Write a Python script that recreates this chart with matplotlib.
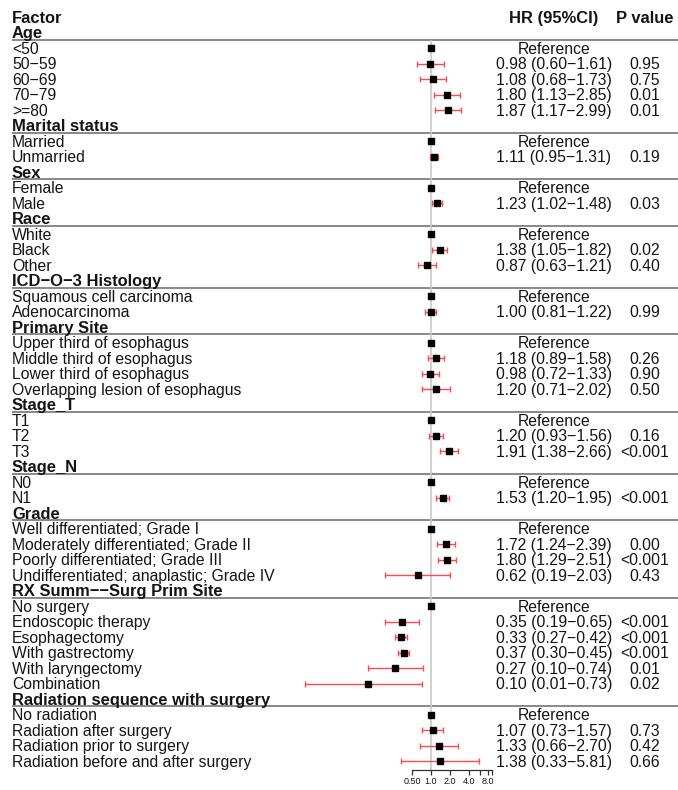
import numpy as np
import matplotlib
matplotlib.use('Agg')
from matplotlib import pyplot as plt
from matplotlib.ticker import FixedLocator, NullFormatter

plt.rcParams['font.family'] = ['Liberation Sans', 'DejaVu Sans']

# Cox model results, one entry per level; nan bounds mark the reference level
group_names = ['Age', 'Marital status', 'Sex', 'Race', 'ICD−O−3 Histology', 'Primary Site',
               'Stage_T', 'Stage_N', 'Grade', 'RX Summ−−Surg Prim Site',
               'Radiation sequence with surgery']
group_sizes = [5, 2, 2, 3, 2, 4, 3, 2, 4, 6, 4]

levels = ['<50', '50−59', '60−69', '70−79', '>=80',
          'Married', 'Unmarried',
          'Female', 'Male',
          'White', 'Black', 'Other',
          'Squamous cell carcinoma', 'Adenocarcinoma',
          'Upper third of esophagus', 'Middle third of esophagus',
          'Lower third of esophagus', 'Overlapping lesion of esophagus',
          'T1', 'T2', 'T3',
          'N0', 'N1',
          'Well differentiated; Grade I', 'Moderately differentiated; Grade II',
          'Poorly differentiated; Grade III', 'Undifferentiated; anaplastic; Grade IV',
          'No surgery', 'Endoscopic therapy', 'Esophagectomy', 'With gastrectomy',
          'With laryngectomy', 'Combination',
          'No radiation', 'Radiation after surgery', 'Radiation prior to surgery',
          'Radiation before and after surgery']

nan = np.nan
hr = [1.00, 0.98, 1.08, 1.80, 1.87,
      1.00, 1.11,
      1.00, 1.23,
      1.00, 1.38, 0.87,
      1.00, 1.00,
      1.00, 1.18, 0.98, 1.20,
      1.00, 1.20, 1.91,
      1.00, 1.53,
      1.00, 1.72, 1.80, 0.62,
      1.00, 0.35, 0.33, 0.37, 0.27, 0.10,
      1.00, 1.07, 1.33, 1.38]
hr_low = [nan, 0.60, 0.68, 1.13, 1.17,
          nan, 0.95,
          nan, 1.02,
          nan, 1.05, 0.63,
          nan, 0.81,
          nan, 0.89, 0.72, 0.71,
          nan, 0.93, 1.38,
          nan, 1.20,
          nan, 1.24, 1.29, 0.19,
          nan, 0.19, 0.27, 0.30, 0.10, 0.01,
          nan, 0.73, 0.66, 0.33]
hr_high = [nan, 1.61, 1.73, 2.85, 2.99,
           nan, 1.31,
           nan, 1.48,
           nan, 1.82, 1.21,
           nan, 1.22,
           nan, 1.58, 1.33, 2.02,
           nan, 1.56, 2.66,
           nan, 1.95,
           nan, 2.39, 2.51, 2.03,
           nan, 0.65, 0.42, 0.45, 0.74, 0.73,
           nan, 1.57, 2.70, 5.81]
p_values = ['', '0.95', '0.75', '0.01', '0.01',
            '', '0.19',
            '', '0.03',
            '', '0.02', '0.40',
            '', '0.99',
            '', '0.26', '0.90', '0.50',
            '', '0.16', '<0.001',
            '', '<0.001',
            '', '0.00', '<0.001', '0.43',
            '', '<0.001', '<0.001', '<0.001', '0.01', '0.02',
            '', '0.73', '0.42', '0.66']

W, H = 678, 790
ROW0, ROW_H = 17, 15.5
X_LABEL, X_HR, X_P = 12, 554, 645
ONE_PX, PX_PER_DOUBLING = 431, 19
AXIS_Y = 770
FS, FS_BOLD = 11.3, 11.9
TXT = '#141414'
CAP = 0.716 * 100 / 72   # cap height in px per point of font size


def row_y(i):
    return ROW0 + ROW_H * i


def put(x, i, s, size, ha='left', bold=False):
    # place text so its capitals are centred on the row
    ax.text(x, row_y(i) + CAP * size / 2, s, fontsize=size, color=TXT, ha=ha,
            va='baseline', fontweight='bold' if bold else 'normal')


fig = plt.figure(figsize=(W / 100, H / 100), dpi=100)

# text / rule layer in pixel units
ax = fig.add_axes([0, 0, 1, 1])
ax.set_xlim(0, W)
ax.set_ylim(H, 0)
ax.axis('off')

# forest layer on a log scale
x_left, x_right = 290, 500
fx = fig.add_axes([x_left / W, 0, (x_right - x_left) / W, 1])
fx.set_xscale('log', base=2)
fx.set_xlim(2 ** ((x_left - ONE_PX) / PX_PER_DOUBLING), 2 ** ((x_right - ONE_PX) / PX_PER_DOUBLING))
fx.set_ylim(H, 0)
fx.patch.set_visible(False)

# header row
put(X_LABEL, 0, 'Factor', FS_BOLD, bold=True)
put(X_HR, 0, 'HR (95%CI)', FS_BOLD, ha='center', bold=True)
put(X_P, 0, 'P value', FS_BOLD, ha='center', bold=True)

row = 1
k = 0
first_rule = None
for name, n in zip(group_names, group_sizes):
    put(X_LABEL, row, name, FS_BOLD, bold=True)
    rule_y = row_y(row) + 7.3
    ax.hlines(rule_y, X_LABEL, W, color='#7f7f7f', lw=1.3, zorder=2)
    if first_rule is None:
        first_rule = rule_y
    row += 1
    for _ in range(n):
        y = row_y(row)
        put(X_LABEL, row, levels[k], FS)
        if np.isnan(hr_low[k]):
            hr_txt = 'Reference'
        else:
            hr_txt = f'{hr[k]:.2f} ({hr_low[k]:.2f}−{hr_high[k]:.2f})'
            fx.errorbar(hr[k], y, xerr=[[hr[k] - hr_low[k]], [hr_high[k] - hr[k]]],
                        fmt='none', ecolor='#ff4a4a', elinewidth=1.0, capsize=2,
                        capthick=1.0, zorder=3)
        fx.plot(hr[k], y, 's', color='black', ms=4.6, zorder=4)
        put(X_HR, row, hr_txt, FS, ha='center')
        if p_values[k]:
            put(X_P, row, p_values[k], FS, ha='center')
        row += 1
        k += 1

# line of no effect
fx.vlines(1, first_rule, AXIS_Y, color='#c8c8c8', lw=1.2, zorder=1)

# bottom axis
for side in ('top', 'right', 'left'):
    fx.spines[side].set_visible(False)
fx.spines['bottom'].set_position(('data', AXIS_Y))
fx.spines['bottom'].set_bounds(0.5, 9.2)
fx.spines['bottom'].set_color('#333333')
fx.spines['bottom'].set_linewidth(0.9)
fx.set_yticks([])
fx.xaxis.set_major_locator(FixedLocator([0.5, 1, 2, 4, 8]))
fx.xaxis.set_minor_locator(FixedLocator([6, 9.2]))
fx.xaxis.set_minor_formatter(NullFormatter())
fx.set_xticklabels(['0.50', '1.0', '2.0', '4.0', '8.0'])
fx.tick_params(axis='x', which='both', length=3.5, width=0.9, color='#333333',
               labelsize=6.5, labelcolor=TXT, pad=1.5)

fig.savefig('out.png', dpi=100)
